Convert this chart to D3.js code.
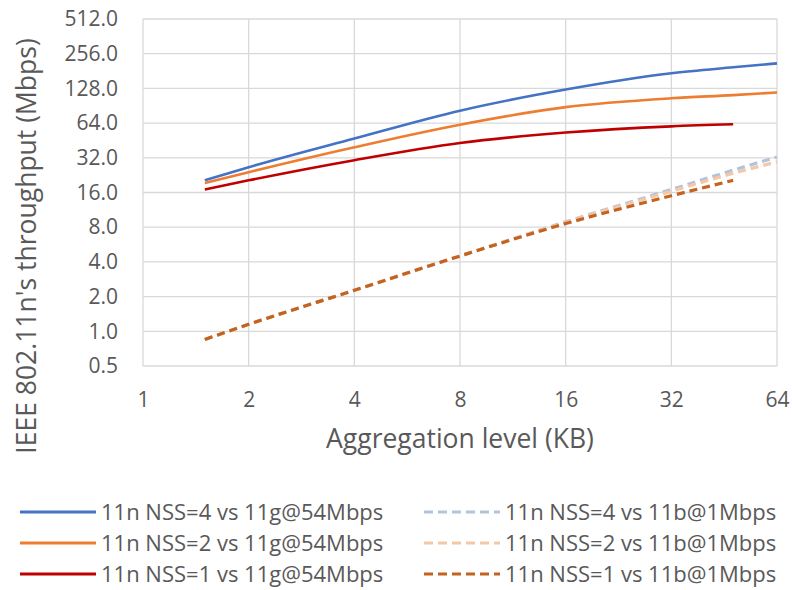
<!DOCTYPE html>
<meta charset="utf-8">
<style>
body { margin: 0; background: #fff; }
text { font-family: "Open Sans", "Liberation Sans", sans-serif; fill: #595959; }
.grid line { stroke: #d9d9d9; stroke-width: 1.3px; }
</style>
<body>
<svg width=792 height=590></svg>
</body>
<script src="https://d3js.org/d3.v7.min.js"></script>
<script>
// aggregation level (KB)
const aggX = [1.5, 2, 4, 8, 16, 32, 48, 64]

// 11n vs 11g@54Mbps
const nss4g = [20.4, 26.5, 47, 82, 125, 173, 195, 211]
const nss2g = [19.3, 24, 39.5, 62, 88, 105, 112, 118]
const nss1g = [17, 20.4, 30.5, 43, 53, 60, 62.5, null]

// 11n vs 11b@1Mbps
const nss4b = [0.85, 1.15, 2.27, 4.5, 8.9, 17, 25, 32.5]
const nss2b = [0.85, 1.15, 2.27, 4.5, 8.8, 16.4, 23.5, 29.5]
const nss1b = [0.85, 1.15, 2.27, 4.5, 8.6, 15, 20.4, null]

const xTicks = [1, 2, 4, 8, 16, 32, 64]
const yTicks = [0.5, 1, 2, 4, 8, 16, 32, 64, 128, 256, 512]

const series = [
  {name: "11n NSS=4 vs 11g@54Mbps", values: nss4g, color: "#4472c4", dash: null},
  {name: "11n NSS=2 vs 11g@54Mbps", values: nss2g, color: "#ed7d31", dash: null},
  {name: "11n NSS=1 vs 11g@54Mbps", values: nss1g, color: "#c00000", dash: null},
  {name: "11n NSS=4 vs 11b@1Mbps", values: nss4b, color: "#b4c3dc", dash: "8,5"},
  {name: "11n NSS=2 vs 11b@1Mbps", values: nss2b, color: "#f4c7a5", dash: "8,5"},
  {name: "11n NSS=1 vs 11b@1Mbps", values: nss1b, color: "#c5621e", dash: "8,5"}
]

const svg = d3.select("svg")
const pLeft = 143, pRight = 777, pTop = 19, pBottom = 366

const x = d3.scaleLog().base(2).domain([1, 64]).range([pLeft, pRight])
const y = d3.scaleLog().base(2).domain([0.5, 512]).range([pBottom, pTop])

const grid = svg.append("g").attr("class", "grid")
grid.selectAll(".gx").data(xTicks).enter().append("line")
  .attr("x1", d => x(d)).attr("x2", d => x(d))
  .attr("y1", pTop).attr("y2", pBottom)
grid.selectAll(".gy").data(yTicks).enter().append("line")
  .attr("x1", pLeft).attr("x2", pRight)
  .attr("y1", d => y(d)).attr("y2", d => y(d))

// axes (labels only, Excel style)
const xAxis = svg.append("g")
  .attr("transform", `translate(0,${pBottom})`)
  .call(d3.axisBottom(x).tickValues(xTicks).tickFormat(d3.format("d")).tickSize(0).tickPadding(26))
xAxis.select(".domain").remove()
xAxis.selectAll("text").style("font-size", "21px").attr("fill", "#595959")

const yAxis = svg.append("g")
  .attr("transform", `translate(${pLeft},0)`)
  .call(d3.axisLeft(y).tickValues(yTicks).tickFormat(d3.format(".1f")).tickSize(0).tickPadding(25))
yAxis.select(".domain").remove()
yAxis.selectAll("text").style("font-size", "21px").attr("fill", "#595959")

svg.append("text")
  .attr("x", 460).attr("y", 448)
  .attr("text-anchor", "middle")
  .style("font-size", "26.5px")
  .text("Aggregation level (KB)")

svg.append("text")
  .attr("transform", "translate(36,246) rotate(-90)")
  .attr("text-anchor", "middle")
  .style("font-size", "26.5px")
  .text("IEEE 802.11n's throughput (Mbps)")

const line = d3.line()
  .defined(d => d[1] != null)
  .x(d => x(d[0]))
  .y(d => y(d[1]))
  .curve(d3.curveMonotoneX)

// dashed first so solid sit on top; NSS=1 dashed drawn last among dashed
const order = [3, 4, 5, 0, 1, 2]
order.forEach(i => {
  const s = series[i]
  svg.append("path")
    .datum(aggX.map((v, j) => [v, s.values[j]]))
    .attr("fill", "none")
    .attr("stroke", s.color)
    .attr("stroke-width", s.dash ? 3.2 : 2.6)
    .attr("stroke-dasharray", s.dash)
    .attr("d", line)
})

// legend
const legend = svg.append("g")
series.forEach((s, i) => {
  const col = i < 3 ? 0 : 1
  const row = i % 3
  const lx = col ? 424 : 20
  const ly = 512 + row * 31
  legend.append("line")
    .attr("x1", lx).attr("x2", lx + 76)
    .attr("y1", ly).attr("y2", ly)
    .attr("stroke", s.color)
    .attr("stroke-width", 3)
    .attr("stroke-dasharray", s.dash ? "9,5" : null)
  legend.append("text")
    .attr("x", lx + 81).attr("y", ly)
    .attr("dy", "0.35em")
    .style("font-size", "22px")
    .text(s.name)
})
</script>
